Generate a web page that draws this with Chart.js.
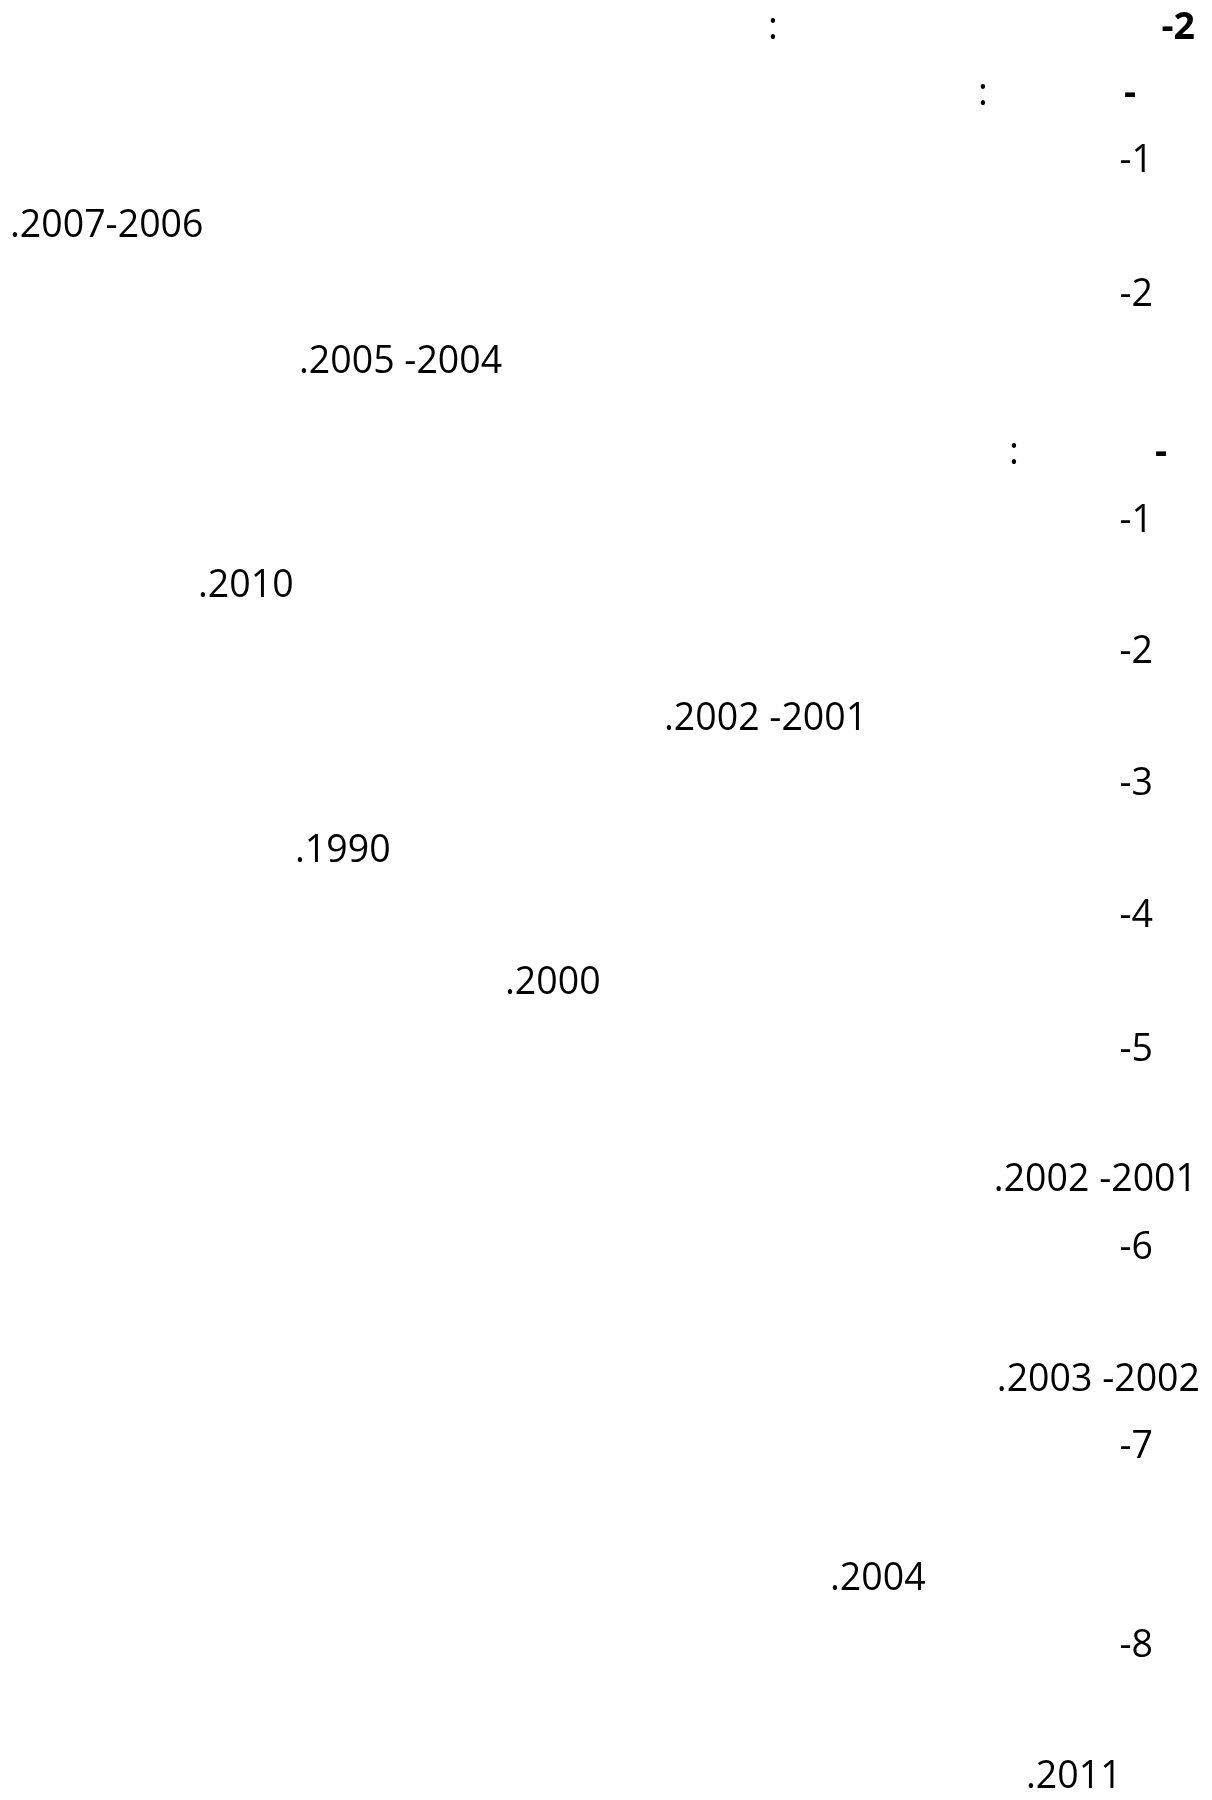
<!DOCTYPE html>
<html>
<head>
<meta charset="utf-8">
<script src="https://cdn.jsdelivr.net/npm/chart.js@4/dist/chart.umd.min.js"></script>
<style>
  html, body { margin: 0; padding: 0; background: #fff; }
  #page { position: relative; width: 1212px; height: 1800px; overflow: hidden; }
  #bg { position: absolute; left: 0; top: 0; width: 1212px; height: 1800px; }
  .t { position: absolute; white-space: pre; font-family: "Open Sans", "Noto Sans", sans-serif;
       font-size: 37.5px; line-height: 37.5px; color: #000; }
  .b { font-weight: bold; }
</style>
</head>
<body>
<div id="page">
  <canvas id="bg" width="1212" height="1800"></canvas>
</div>
<script>
// Text content of the page (Arabic words not rendered in the source, only numerals/punctuation survive)
const labels = [
  "-2", ":", "-", ":", "-1", ".2007-2006", "-2", ".2005 -2004",
  "-", ":", "-1", ".2010", "-2", ".2002 -2001", "-3", ".1990",
  "-4", ".2000", "-5", ".2002 -2001", "-6", ".2003 -2002", "-7",
  ".2004", "-8", ".2011"
];
const bold = [1,0,1,0,0,0,0,0, 1,0,0,0,0,0,0,0, 0,0,0,0,0,0,0, 0,0,0];
// layout: anchor x, baseline y, alignment (r = right edge, l = left edge, c = centre)
const anchorX = [1195, 773, 1136, 983, 1153, 10, 1153, 299,
                 1167, 1014, 1153, 198, 1153, 664, 1153, 295,
                 1153, 505, 1153, 1197, 1153, 1200, 1153,
                 830, 1153, 1026];
const baseY = [39, 39, 105, 105, 172, 237, 306, 373,
               464, 464, 532, 597, 663, 730, 795, 862,
               927, 994, 1061, 1191, 1259, 1391, 1458,
               1590, 1657, 1788];
const align = ["r","c","r","c","r","l","r","l",
               "r","c","r","l","r","l","r","l",
               "r","l","r","r","r","r","r",
               "l","r","l"];

// Empty Chart.js layer (the source page holds no plotted marks)
new Chart(document.getElementById('bg'), {
  type: 'scatter',
  data: { datasets: [] },
  options: {
    responsive: false, animation: false,
    plugins: { legend: { display: false }, tooltip: { enabled: false } },
    scales: { x: { display: false }, y: { display: false } }
  }
});

const page = document.getElementById('page');
// baseline offset for Open Sans with line-height = font-size
const FS = 37.5;
const baseOff = FS * ((1 - 1.362) / 2 + 1.069);
labels.forEach((txt, i) => {
  const s = document.createElement('span');
  s.className = 't' + (bold[i] ? ' b' : '');
  s.textContent = txt;
  s.style.top = (baseY[i] - baseOff) + 'px';
  page.appendChild(s);
  const w = s.getBoundingClientRect().width;
  let left;
  if (align[i] === 'r') left = anchorX[i] - w;
  else if (align[i] === 'c') left = anchorX[i] - w / 2;
  else left = anchorX[i];
  s.style.left = left + 'px';
});
</script>
</body>
</html>
